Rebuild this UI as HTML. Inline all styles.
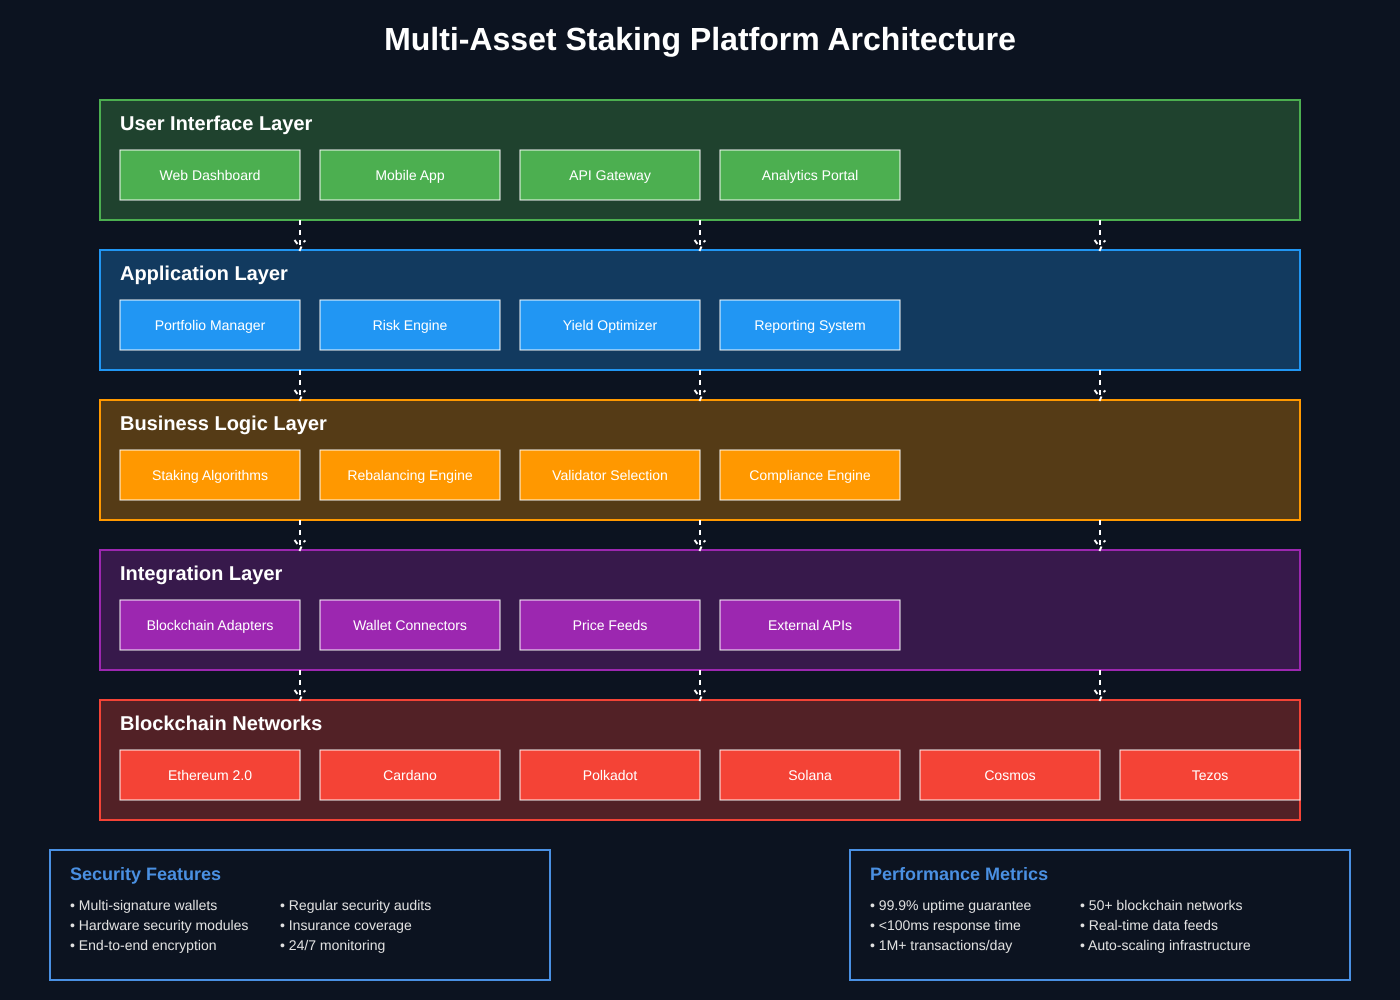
<!DOCTYPE html>
<html><head><meta charset="utf-8"><style>
html,body{margin:0;padding:0;background:#0c1320}
body{position:relative;width:1400px;height:1000px;overflow:hidden;text-rendering:geometricPrecision}
svg{display:block;position:absolute;left:0;top:0}
div{position:absolute;font-family:"Liberation Sans",sans-serif;white-space:nowrap;line-height:normal}
.ti{left:0;width:1400px;top:21px;text-align:center;color:#fff;font-size:32px;font-weight:bold}
.l{color:#fff;font-size:20px;font-weight:bold;left:120px}
.n{color:#fff;font-size:14px;text-align:center;width:180px}
.h{color:#4a90e2;font-size:18px;font-weight:bold}
.t{color:#e0e0e0;font-size:14px}
.b{stroke:#fff;stroke-opacity:.95;stroke-width:1}
.c{stroke:#fff;stroke-width:2;fill:none}
.d{stroke-dasharray:5,5}
</style></head><body>
<svg width="1400" height="1000" viewBox="0 0 1400 1000" xmlns="http://www.w3.org/2000/svg">
<defs>
<g id="arr">
<path class="c d" d="M0,220V250"/>
<path class="c" d="M-5.5,240L-2.5,244M3.5,242L5.5,240.5M1.5,246.5L-.5,251"/>
</g>
</defs>
<rect width="1400" height="1000" fill="#0c1320"/>

<rect x="100" y="100" width="1200" height="120" fill="#4CAF50" fill-opacity=".3" stroke="#4CAF50" stroke-width="2"/>
<g fill="#4CAF50">
<rect class="b" x="120" y="150" width="180" height="50"/><rect class="b" x="320" y="150" width="180" height="50"/><rect class="b" x="520" y="150" width="180" height="50"/><rect class="b" x="720" y="150" width="180" height="50"/></g>

<rect x="100" y="250" width="1200" height="120" fill="#2196F3" fill-opacity=".3" stroke="#2196F3" stroke-width="2"/>
<g fill="#2196F3">
<rect class="b" x="120" y="300" width="180" height="50"/><rect class="b" x="320" y="300" width="180" height="50"/><rect class="b" x="520" y="300" width="180" height="50"/><rect class="b" x="720" y="300" width="180" height="50"/></g>

<rect x="100" y="400" width="1200" height="120" fill="#FF9800" fill-opacity=".3" stroke="#FF9800" stroke-width="2"/>
<g fill="#FF9800">
<rect class="b" x="120" y="450" width="180" height="50"/><rect class="b" x="320" y="450" width="180" height="50"/><rect class="b" x="520" y="450" width="180" height="50"/><rect class="b" x="720" y="450" width="180" height="50"/></g>

<rect x="100" y="550" width="1200" height="120" fill="#9C27B0" fill-opacity=".3" stroke="#9C27B0" stroke-width="2"/>
<g fill="#9C27B0">
<rect class="b" x="120" y="600" width="180" height="50"/><rect class="b" x="320" y="600" width="180" height="50"/><rect class="b" x="520" y="600" width="180" height="50"/><rect class="b" x="720" y="600" width="180" height="50"/></g>

<rect x="100" y="700" width="1200" height="120" fill="#F44336" fill-opacity=".3" stroke="#F44336" stroke-width="2"/>
<g fill="#F44336">
<rect class="b" x="120" y="750" width="180" height="50"/><rect class="b" x="320" y="750" width="180" height="50"/><rect class="b" x="520" y="750" width="180" height="50"/><rect class="b" x="720" y="750" width="180" height="50"/><rect class="b" x="920" y="750" width="180" height="50"/><rect class="b" x="1120" y="750" width="180" height="50"/></g>

<use href="#arr" x="300" y="0"/><use href="#arr" x="700" y="0"/><use href="#arr" x="1100" y="0"/>
<use href="#arr" x="300" y="150"/><use href="#arr" x="700" y="150"/><use href="#arr" x="1100" y="150"/>
<use href="#arr" x="300" y="300"/><use href="#arr" x="700" y="300"/><use href="#arr" x="1100" y="300"/>
<use href="#arr" x="300" y="450"/><use href="#arr" x="700" y="450"/><use href="#arr" x="1100" y="450"/>

<rect x="50" y="850" width="500" height="130" fill="#0c1320" stroke="#4a90e2" stroke-width="2"/>
<rect x="850" y="850" width="500" height="130" fill="#0c1320" stroke="#4a90e2" stroke-width="2"/>
</svg>

<div class="ti">Multi-Asset Staking Platform Architecture</div>

<div class="l" style="top:113px">User Interface Layer</div>
<div class="n" style="left:120px;top:167px">Web Dashboard</div><div class="n" style="left:320px;top:167px">Mobile App</div><div class="n" style="left:520px;top:167px">API Gateway</div><div class="n" style="left:720px;top:167px">Analytics Portal</div>

<div class="l" style="top:263px">Application Layer</div>
<div class="n" style="left:120px;top:317px">Portfolio Manager</div><div class="n" style="left:320px;top:317px">Risk Engine</div><div class="n" style="left:520px;top:317px">Yield Optimizer</div><div class="n" style="left:720px;top:317px">Reporting System</div>

<div class="l" style="top:413px">Business Logic Layer</div>
<div class="n" style="left:120px;top:467px">Staking Algorithms</div><div class="n" style="left:320px;top:467px">Rebalancing Engine</div><div class="n" style="left:520px;top:467px">Validator Selection</div><div class="n" style="left:720px;top:467px">Compliance Engine</div>

<div class="l" style="top:563px">Integration Layer</div>
<div class="n" style="left:120px;top:617px">Blockchain Adapters</div><div class="n" style="left:320px;top:617px">Wallet Connectors</div><div class="n" style="left:520px;top:617px">Price Feeds</div><div class="n" style="left:720px;top:617px">External APIs</div>

<div class="l" style="top:713px">Blockchain Networks</div>
<div class="n" style="left:120px;top:767px">Ethereum 2.0</div><div class="n" style="left:320px;top:767px">Cardano</div><div class="n" style="left:520px;top:767px">Polkadot</div><div class="n" style="left:720px;top:767px">Solana</div><div class="n" style="left:920px;top:767px">Cosmos</div><div class="n" style="left:1120px;top:767px">Tezos</div>

<div class="h" style="left:70px;top:864px">Security Features</div>
<div class="t" style="left:70px;top:897px">• Multi-signature wallets</div><div class="t" style="left:70px;top:917px">• Hardware security modules</div><div class="t" style="left:70px;top:937px">• End-to-end encryption</div>
<div class="t" style="left:280px;top:897px">• Regular security audits</div><div class="t" style="left:280px;top:917px">• Insurance coverage</div><div class="t" style="left:280px;top:937px">• 24/7 monitoring</div>

<div class="h" style="left:870px;top:864px">Performance Metrics</div>
<div class="t" style="left:870px;top:897px">• 99.9% uptime guarantee</div><div class="t" style="left:870px;top:917px">• &lt;100ms response time</div><div class="t" style="left:870px;top:937px">• 1M+ transactions/day</div>
<div class="t" style="left:1080px;top:897px">• 50+ blockchain networks</div><div class="t" style="left:1080px;top:917px">• Real-time data feeds</div><div class="t" style="left:1080px;top:937px">• Auto-scaling infrastructure</div>
</body></html>
